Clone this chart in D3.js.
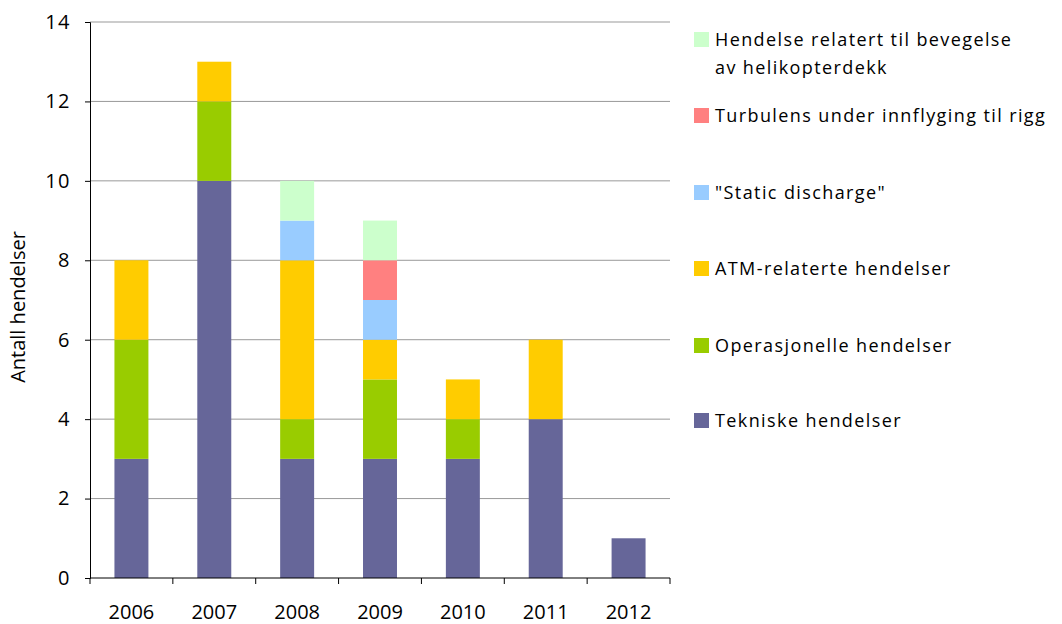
<!DOCTYPE html>
<html>
<head>
<meta charset="utf-8">
<script src="https://cdn.jsdelivr.net/npm/d3@7"></script>
<style>
  body { margin: 0; background: #fff; }
  svg { display: block; font-family: "Open Sans", "DejaVu Sans", sans-serif; }
</style>
</head>
<body>
<svg width="1062" height="624"></svg>
<script>
const svg = d3.select("svg");

// Data
const years = ["2006", "2007", "2008", "2009", "2010", "2011", "2012"];
const tekniske = [3, 10, 3, 3, 3, 4, 1];
const operasjonelle = [3, 2, 1, 2, 1, 0, 0];
const atm = [2, 1, 4, 1, 1, 2, 0];
const staticDischarge = [0, 0, 1, 1, 0, 0, 0];
const turbulens = [0, 0, 0, 1, 0, 0, 0];
const helidekk = [0, 0, 1, 1, 0, 0, 0];
const yTicks = [0, 2, 4, 6, 8, 10, 12, 14];

const series = [
  { key: "tekniske", name: ["Tekniske hendelser"], values: tekniske, color: "#666699" },
  { key: "operasjonelle", name: ["Operasjonelle hendelser"], values: operasjonelle, color: "#99cc00" },
  { key: "atm", name: ["ATM-relaterte hendelser"], values: atm, color: "#ffcc00" },
  { key: "static", name: ["\"Static discharge\""], values: staticDischarge, color: "#99ccff" },
  { key: "turbulens", name: ["Turbulens under innflyging til rigg"], values: turbulens, color: "#ff8080" },
  { key: "helidekk", name: ["Hendelse relatert til bevegelse", "av helikopterdekk"], values: helidekk, color: "#ccffcc" }
];

// Table for stacking
const table = years.map((y, i) => {
  const row = { year: y };
  series.forEach(s => row[s.key] = s.values[i]);
  return row;
});
const stacked = d3.stack().keys(series.map(s => s.key))(table);

// Plot area
const plotLeft = 90, plotRight = 670, plotTop = 22, plotBottom = 578;

const xScale = d3.scaleBand().domain(years).range([plotLeft, plotRight]).paddingInner(0.59).paddingOuter(0.295);
const xBoundary = d3.scaleLinear().domain([0, years.length]).range([plotLeft, plotRight]);
const yScale = d3.scaleLinear().domain([0, 14]).range([plotBottom, plotTop]);

// Gridlines
svg.append("g")
  .selectAll("line")
  .data(yTicks.filter(d => d > 0))
  .join("line")
  .attr("x1", plotLeft)
  .attr("x2", plotRight)
  .attr("y1", d => yScale(d))
  .attr("y2", d => yScale(d))
  .attr("stroke", "#999999")
  .attr("stroke-width", 1);

// Bars
stacked.forEach((layer, li) => {
  svg.append("g")
    .attr("fill", series[li].color)
    .selectAll("rect")
    .data(layer)
    .join("rect")
    .attr("x", d => xScale(d.data.year))
    .attr("y", d => yScale(d[1]))
    .attr("width", xScale.bandwidth())
    .attr("height", d => yScale(d[0]) - yScale(d[1]));
});

// Y axis
const yAxis = svg.append("g")
  .attr("transform", `translate(${plotLeft},0)`)
  .call(d3.axisLeft(yScale).tickValues(yTicks).tickSize(5).tickPadding(14));
yAxis.attr("font-family", null).attr("font-size", null);
yAxis.select(".domain").attr("stroke", "#000");
yAxis.selectAll(".tick line").attr("stroke", "#000");
yAxis.selectAll("text")
  .style("font-size", "20px")
  .attr("letter-spacing", "1.5px")
  .attr("fill", "#000");

// X axis (ticks at category boundaries)
svg.append("line")
  .attr("x1", plotLeft).attr("x2", plotRight)
  .attr("y1", plotBottom).attr("y2", plotBottom)
  .attr("stroke", "#000");
svg.append("g")
  .selectAll("line")
  .data(d3.range(years.length + 1))
  .join("line")
  .attr("x1", d => xBoundary(d))
  .attr("x2", d => xBoundary(d))
  .attr("y1", plotBottom)
  .attr("y2", plotBottom + 6)
  .attr("stroke", "#000");
svg.append("g")
  .selectAll("text")
  .data(years)
  .join("text")
  .attr("x", d => xScale(d) + xScale.bandwidth() / 2)
  .attr("y", 619)
  .attr("text-anchor", "middle")
  .style("font-size", "20px")
  .text(d => d);

// Y axis title
svg.append("text")
  .attr("transform", "translate(25,307) rotate(-90)")
  .attr("text-anchor", "middle")
  .style("font-size", "20px")
  .text("Antall hendelser");

// Legend (top item first)
const legendItems = series.slice().reverse();
const legendY = [39, 115, 192, 268, 345, 420];
const legend = svg.append("g");
legendItems.forEach((s, i) => {
  const cy = legendY[i];
  legend.append("rect")
    .attr("x", 694).attr("y", cy - 7)
    .attr("width", 15).attr("height", 15)
    .attr("fill", s.color);
  s.name.forEach((line, j) => {
    legend.append("text")
      .attr("x", 715)
      .attr("y", cy + 7 + j * 28)
      .style("font-size", "18px")
      .attr("letter-spacing", "1.4px")
      .text(line);
  });
});
</script>
</body>
</html>
